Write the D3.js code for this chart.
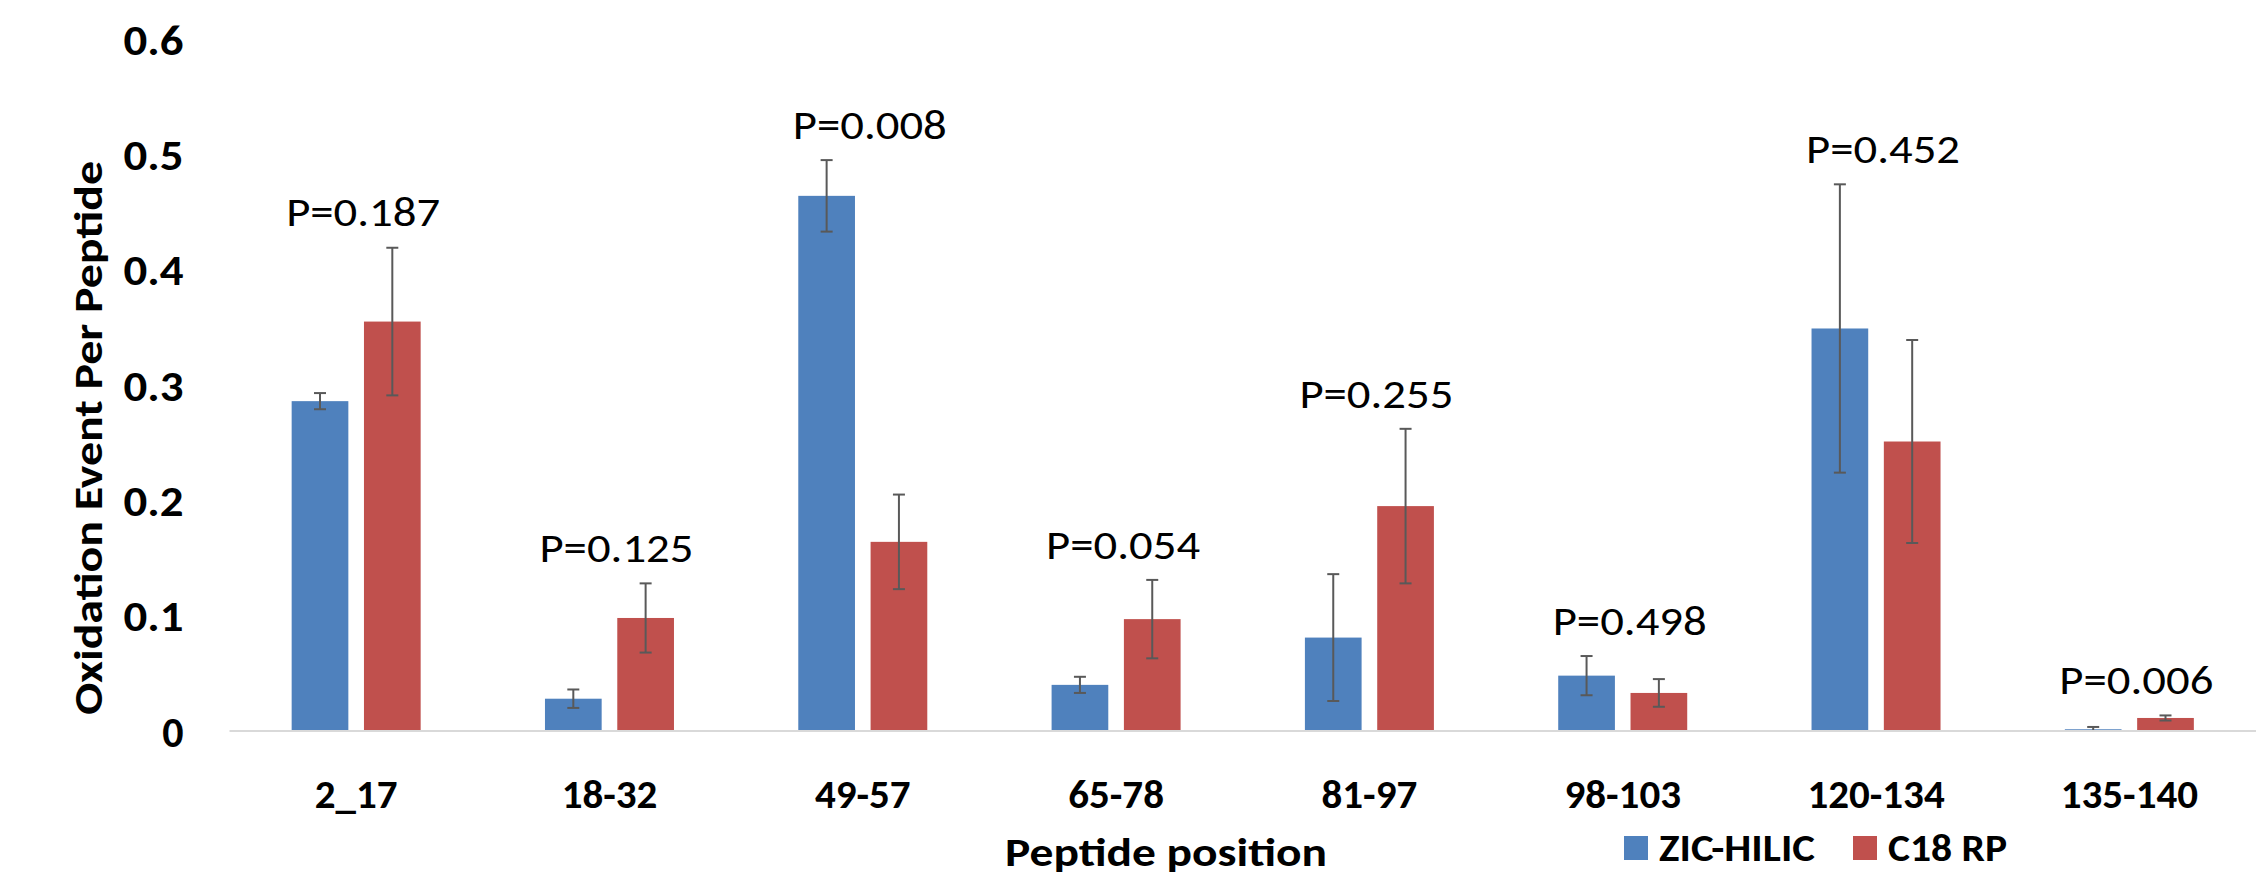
<!DOCTYPE html>
<html>
<head>
<meta charset="utf-8">
<script src="https://cdn.jsdelivr.net/npm/d3@7"></script>
<style>
  html, body { margin: 0; padding: 0; background: #ffffff; }
  svg { display: block; }
  text { font-family: Calibri, Carlito, Lato, sans-serif; fill: #000000; }
</style>
</head>
<body>
<script>
// Peptide regions on the x axis
const categories = ["2_17", "18-32", "49-57", "65-78", "81-97", "98-103", "120-134", "135-140"];

// Series names
const seriesNames = ["ZIC-HILIC", "C18 RP"];

// Mean oxidation events per peptide, with error bar half-widths
const zicHilic    = [0.286, 0.028, 0.464, 0.040, 0.081, 0.048, 0.349, 0.0015];
const zicHilicErr = [0.007, 0.008, 0.031, 0.007, 0.055, 0.017, 0.125, 0.002];
const c18rp       = [0.355, 0.098, 0.164, 0.097, 0.195, 0.033, 0.251, 0.0113];
const c18rpErr    = [0.064, 0.030, 0.041, 0.034, 0.067, 0.012, 0.088, 0.0022];

// Significance annotation for each region
const pLabels = ["P=0.187", "P=0.125", "P=0.008", "P=0.054", "P=0.255", "P=0.498", "P=0.452", "P=0.006"];

// Value axis ticks
const yTicks = [0, 0.1, 0.2, 0.3, 0.4, 0.5, 0.6];
const yTickLabels = ["0", "0.1", "0.2", "0.3", "0.4", "0.5", "0.6"];

const yTitle = "Oxidation Event Per Peptide";
const xTitle = "Peptide position";

const W = 2257, H = 876;
const plotLeft = 229.5, plotRight = 2256, plotTop = 39, plotBottom = 731;
const colors = { "ZIC-HILIC": "#4F81BD", "C18 RP": "#C0504D" };

const rows = categories.map((c, i) => ({
  category: c,
  p: pLabels[i],
  values: [
    { series: seriesNames[0], value: zicHilic[i], err: zicHilicErr[i] },
    { series: seriesNames[1], value: c18rp[i], err: c18rpErr[i] }
  ]
}));

const svg = d3.select("body").append("svg")
  .attr("width", W).attr("height", H)
  .attr("viewBox", `0 0 ${W} ${H}`);

svg.append("rect").attr("width", W).attr("height", H).attr("fill", "#ffffff");

const x0 = d3.scaleBand().domain(categories).range([plotLeft, plotRight]).paddingInner(0).paddingOuter(0);
const bw = x0.bandwidth();
const x1 = d3.scaleBand().domain(seriesNames)
  .range([bw / 2 - 64.5, bw / 2 + 64.5]).paddingInner(0.216).paddingOuter(0);
const y = d3.scaleLinear().domain([0, 0.6]).range([plotBottom, plotTop]);

// Value axis labels (no axis line, no ticks)
const yAxis = svg.append("g")
  .attr("transform", `translate(${plotLeft},0)`)
  .call(d3.axisLeft(y).tickValues(yTicks).tickSize(0).tickPadding(46)
    .tickFormat((d, i) => yTickLabels[i]));
yAxis.select(".domain").remove();
yAxis.selectAll("text")
  .attr("dy", "0.36em")
  .style("font-family", "Calibri, Carlito, Lato, sans-serif")
  .style("font-size", "42px")
  .style("font-weight", "bold")
  .attr("fill", "#000")
  .each(function (d, i) {
    if (yTickLabels[i].length > 1) {
      d3.select(this).attr("textLength", 60).attr("lengthAdjust", "spacingAndGlyphs");
    }
  });

// Groups of bars
const groups = svg.append("g").selectAll("g")
  .data(rows).join("g")
  .attr("transform", d => `translate(${x0(d.category)},0)`);

groups.selectAll("rect")
  .data(d => d.values).join("rect")
  .attr("x", d => x1(d.series))
  .attr("y", d => y(d.value))
  .attr("width", x1.bandwidth())
  .attr("height", d => y(0) - y(d.value))
  .attr("fill", d => colors[d.series]);

// Error bars
const capHalf = 6;
const eb = groups.selectAll("g.err")
  .data(d => d.values).join("g").attr("class", "err")
  .attr("stroke", "#595959").attr("stroke-width", 2).attr("fill", "none");
eb.append("line")
  .attr("x1", d => x1(d.series) + x1.bandwidth() / 2)
  .attr("x2", d => x1(d.series) + x1.bandwidth() / 2)
  .attr("y1", d => y(d.value + d.err))
  .attr("y2", d => y(Math.max(0, d.value - d.err)));
eb.append("line")
  .attr("x1", d => x1(d.series) + x1.bandwidth() / 2 - capHalf)
  .attr("x2", d => x1(d.series) + x1.bandwidth() / 2 + capHalf)
  .attr("y1", d => y(d.value + d.err))
  .attr("y2", d => y(d.value + d.err));
eb.append("line")
  .attr("x1", d => x1(d.series) + x1.bandwidth() / 2 - capHalf)
  .attr("x2", d => x1(d.series) + x1.bandwidth() / 2 + capHalf)
  .attr("y1", d => y(Math.max(0, d.value - d.err)))
  .attr("y2", d => y(Math.max(0, d.value - d.err)));

// P-value annotations above the taller error bar of each group
groups.append("text")
  .attr("x", bw / 2 + 7)
  .attr("y", d => y(d3.max(d.values, v => v.value + v.err)) - 36 + 14.7)
  .attr("text-anchor", "middle")
  .attr("textLength", 154)
  .attr("lengthAdjust", "spacingAndGlyphs")
  .style("font-size", "41px")
  .text(d => d.p);

// Category axis baseline
svg.append("line")
  .attr("x1", plotLeft).attr("x2", plotRight)
  .attr("y1", y(0)).attr("y2", y(0))
  .attr("stroke", "#d9d9d9").attr("stroke-width", 2);

// Category labels
const xAxis = svg.append("g")
  .attr("transform", `translate(0,${plotBottom})`)
  .call(d3.axisBottom(x0).tickSize(0).tickPadding(48));
xAxis.select(".domain").remove();
xAxis.selectAll("text")
  .style("font-family", "Calibri, Carlito, Lato, sans-serif")
  .style("font-size", "41px")
  .style("font-weight", "bold")
  .attr("fill", "#000");

// Axis titles
svg.append("text")
  .attr("transform", `translate(102,438) rotate(-90)`)
  .attr("text-anchor", "middle")
  .attr("textLength", 554)
  .attr("lengthAdjust", "spacingAndGlyphs")
  .style("font-size", "41px").style("font-weight", "bold")
  .text(yTitle);

svg.append("text")
  .attr("x", 1166).attr("y", 866)
  .attr("text-anchor", "middle")
  .attr("textLength", 322)
  .attr("lengthAdjust", "spacingAndGlyphs")
  .style("font-size", "41px").style("font-weight", "bold")
  .text(xTitle);

// Legend
const legendX = [1624, 1853];
const textW = [156, 119];
const legend = svg.append("g").selectAll("g")
  .data(seriesNames).join("g")
  .attr("transform", (d, i) => `translate(${legendX[i]},836)`);
legend.append("rect")
  .attr("width", 24).attr("height", 24)
  .attr("fill", d => colors[d]);
legend.append("text")
  .attr("x", 35).attr("y", 25)
  .attr("textLength", (d, i) => textW[i])
  .attr("lengthAdjust", "spacingAndGlyphs")
  .style("font-size", "38px").style("font-weight", "bold")
  .text(d => d);
</script>
</body>
</html>
